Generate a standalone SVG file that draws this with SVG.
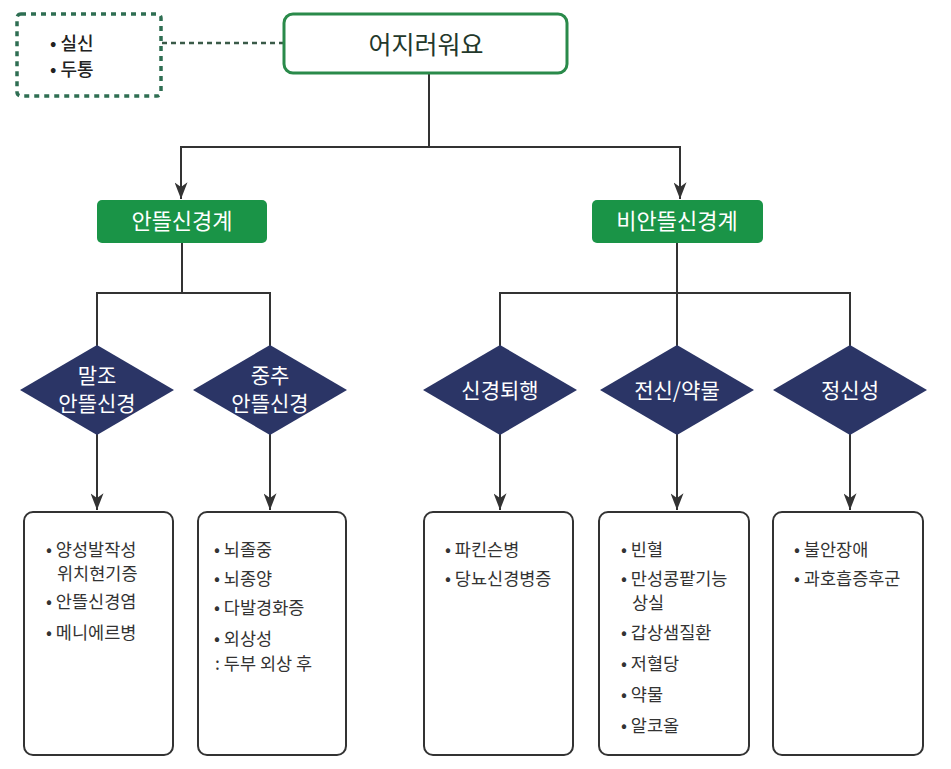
<svg xmlns="http://www.w3.org/2000/svg" width="951" height="769" viewBox="0 0 951 769">
<defs>
<style>
.conn{stroke:#333;stroke-width:2;fill:none}
.dot{stroke:#3a5a48;stroke-width:2.5;fill:none;stroke-dasharray:5 4}
.dbox{stroke:#2e6e52;stroke-width:3.5;fill:#fff;stroke-dasharray:5 5}
.main{stroke:#2a8a4a;stroke-width:3;fill:#fff}
.green{fill:#1a9447}
.dia{fill:#2b3566}
.box{stroke:#333;stroke-width:2;fill:#fff}
text{font-family:"Noto Sans CJK KR","Noto Sans",sans-serif}
.wt{fill:#fff;font-size:21px;text-anchor:middle}
.gt{fill:#fff;font-size:22px;text-anchor:middle}
.mt{fill:#23382b;font-size:25px;text-anchor:middle}
.bt{fill:#333;font-size:17.5px}
.st{fill:#222;font-size:18px;font-weight:500}
</style>
<marker id="ah" viewBox="0 0 18 14" refX="18" refY="7" markerWidth="18" markerHeight="13" markerUnits="userSpaceOnUse" orient="auto">
<path d="M0,0 L18,7 L0,14 L5,7 Z" fill="#333"/>
</marker>
</defs>
<rect width="951" height="769" fill="#fff"/>

<g id="connectors">
<line class="dot" x1="162" y1="43" x2="284" y2="43"/>
<line class="conn" x1="429" y1="74" x2="429" y2="147"/>
<line class="conn" x1="181" y1="147" x2="680" y2="147"/>
<line class="conn" x1="181" y1="146" x2="181" y2="199" marker-end="url(#ah)"/>
<line class="conn" x1="680" y1="146" x2="680" y2="199" marker-end="url(#ah)"/>
<line class="conn" x1="182" y1="243" x2="182" y2="293"/>
<line class="conn" x1="97" y1="293" x2="270" y2="293"/>
<line class="conn" x1="97" y1="292" x2="97" y2="346"/>
<line class="conn" x1="270" y1="292" x2="270" y2="346"/>
<line class="conn" x1="677" y1="243" x2="677" y2="346"/>
<line class="conn" x1="500" y1="293" x2="850" y2="293"/>
<line class="conn" x1="500" y1="292" x2="500" y2="346"/>
<line class="conn" x1="850" y1="292" x2="850" y2="346"/>
<line class="conn" x1="97" y1="434" x2="97" y2="510" marker-end="url(#ah)"/>
<line class="conn" x1="270" y1="434" x2="270" y2="510" marker-end="url(#ah)"/>
<line class="conn" x1="500" y1="434" x2="500" y2="510" marker-end="url(#ah)"/>
<line class="conn" x1="677" y1="434" x2="677" y2="510" marker-end="url(#ah)"/>
<line class="conn" x1="850" y1="434" x2="850" y2="510" marker-end="url(#ah)"/>
</g>

<g id="note">
<rect class="dbox" x="17" y="14" width="144" height="82" rx="4"/>
<text class="st" x="50" y="50">• 실신</text>
<text class="st" x="50" y="76">• 두통</text>
</g>

<g id="root">
<rect class="main" x="284" y="14" width="283" height="59" rx="9"/>
<text class="mt" x="426" y="54">어지러워요</text>
</g>

<g id="vestibular">
<rect class="green" x="97" y="200" width="170" height="43" rx="5"/>
<text class="gt" x="182" y="229">안뜰신경계</text>
</g>
<g id="nonvestibular">
<rect class="green" x="592" y="200" width="171" height="43" rx="5"/>
<text class="gt" x="677" y="229">비안뜰신경계</text>
</g>

<g id="d-peripheral">
<polygon class="dia" points="97,345 174,390 97,435 20,390"/>
<text class="wt" x="97" y="383">말조</text>
<text class="wt" x="97" y="411">안뜰신경</text>
</g>
<g id="d-central">
<polygon class="dia" points="270,345 347,390 270,435 193,390"/>
<text class="wt" x="270" y="383">중추</text>
<text class="wt" x="270" y="411">안뜰신경</text>
</g>
<g id="d-neuro">
<polygon class="dia" points="500,345 577,390 500,435 423,390"/>
<text class="wt" x="500" y="398">신경퇴행</text>
</g>
<g id="d-systemic">
<polygon class="dia" points="677,345 754,390 677,435 600,390"/>
<text class="wt" x="677" y="398">전신/약물</text>
</g>
<g id="d-psych">
<polygon class="dia" points="850,345 927,390 850,435 773,390"/>
<text class="wt" x="850" y="398">정신성</text>
</g>

<g id="box-peripheral">
<rect class="box" x="24" y="512" width="149" height="243" rx="9"/>
<text class="bt" x="46" y="556">• 양성발작성</text>
<text class="bt" x="57" y="580">위치현기증</text>
<text class="bt" x="46" y="608">• 안뜰신경염</text>
<text class="bt" x="46" y="639">• 메니에르병</text>
</g>
<g id="box-central">
<rect class="box" x="198" y="512" width="148" height="243" rx="9"/>
<text class="bt" x="214" y="556">• 뇌졸중</text>
<text class="bt" x="214" y="585">• 뇌종양</text>
<text class="bt" x="214" y="614">• 다발경화증</text>
<text class="bt" x="214" y="645">• 외상성</text>
<text class="bt" x="215" y="670">: 두부 외상 후</text>
</g>
<g id="box-neuro">
<rect class="box" x="424" y="512" width="149" height="243" rx="9"/>
<text class="bt" x="445" y="556">• 파킨슨병</text>
<text class="bt" x="445" y="585">• 당뇨신경병증</text>
</g>
<g id="box-systemic">
<rect class="box" x="599" y="512" width="150" height="243" rx="9"/>
<text class="bt" x="621" y="556">• 빈혈</text>
<text class="bt" x="621" y="585">• 만성콩팥기능</text>
<text class="bt" x="632" y="609">상실</text>
<text class="bt" x="621" y="639">• 갑상샘질환</text>
<text class="bt" x="621" y="670">• 저혈당</text>
<text class="bt" x="621" y="701">• 약물</text>
<text class="bt" x="621" y="732">• 알코올</text>
</g>
<g id="box-psych">
<rect class="box" x="773" y="512" width="150" height="243" rx="9"/>
<text class="bt" x="794" y="556">• 불안장애</text>
<text class="bt" x="794" y="585">• 과호흡증후군</text>
</g>
</svg>
